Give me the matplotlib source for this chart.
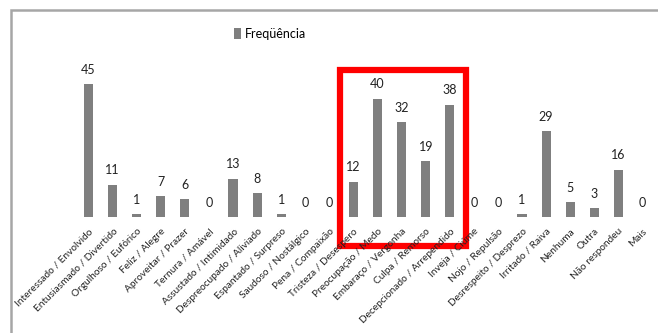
import numpy as np
import matplotlib
matplotlib.use("Agg")
import matplotlib.pyplot as plt
from matplotlib.patches import Rectangle

# dados
categorias = ["Interessado / Envolvido", "Entusiasmado / Divertido", "Orgulhoso / Eufórico",
              "Feliz / Alegre", "Aproveitar / Prazer", "Ternura / Amável",
              "Assustado / Intimidado", "Despreocupado / Aliviado", "Espantado / Surpreso",
              "Saudoso / Nostálgico", "Pena / Compaixão", "Tristeza / Desespero",
              "Preocupação / Medo", "Embaraço / Vergonha", "Culpa / Remorso",
              "Decepcionado / Arrependido", "Inveja / Ciúme", "Nojo / Repulsão",
              "Desrespeito / Desprezo", "Irritado / Raiva", "Nenhuma", "Outra",
              "Não respondeu", "Mais"]
frequencia = [45, 11, 1, 7, 6, 0, 13, 8, 1, 0, 0, 12, 40, 32, 19, 38, 0, 0, 1, 29, 5, 3, 16, 0]
destaque = (11, 15)  # primeira e última categoria dentro do retângulo vermelho

plt.rcParams['font.family'] = ['Lato', 'DejaVu Sans']

fig = plt.figure(figsize=(6.58, 3.33), dpi=100)
ax = fig.add_axes([0.1163, 0.3483, 0.8784, 0.4438])

x = np.arange(len(categorias))
barras = ax.bar(x, frequencia, width=0.38, color='#7f7f7f', label='Freqüência')

for xi, v in zip(x, frequencia):
    ax.annotate(str(v), (xi, v), xytext=(0, 6), textcoords='offset points',
                ha='center', va='bottom', fontsize=9, color='#222222')

ax.set_xlim(-0.5, len(categorias) - 0.5)
ax.set_ylim(0, 50)
ax.set_xticks(x)
ax.set_xticklabels(categorias, rotation=45, ha='right', rotation_mode='anchor',
                   fontsize=7.3, color='#222222')
ax.tick_params(axis='x', length=0, pad=7)
ax.set_yticks([])
for s in ax.spines.values():
    s.set_visible(False)

# retângulo vermelho de destaque (desce até os rótulos)
ax.add_patch(Rectangle((destaque[0] - 0.56, -9.8), destaque[1] - destaque[0] + 1.23, 59.5,
                       fill=False, edgecolor='#ff0000', linewidth=4.5, clip_on=False))

ax.legend(handles=[barras], loc='center', bbox_to_anchor=(0.41, 0.898),
          bbox_transform=fig.transFigure, frameon=False, fontsize=9,
          handlelength=0.6, handleheight=0.9, handletextpad=0.3)

# moldura cinza do gráfico
fig.patches.append(Rectangle((0.0167, -0.05), 1.1, 1.02, transform=fig.transFigure,
                             fill=False, edgecolor='#a6a6a6', linewidth=1.8))

plt.savefig('out.png', dpi=100)
